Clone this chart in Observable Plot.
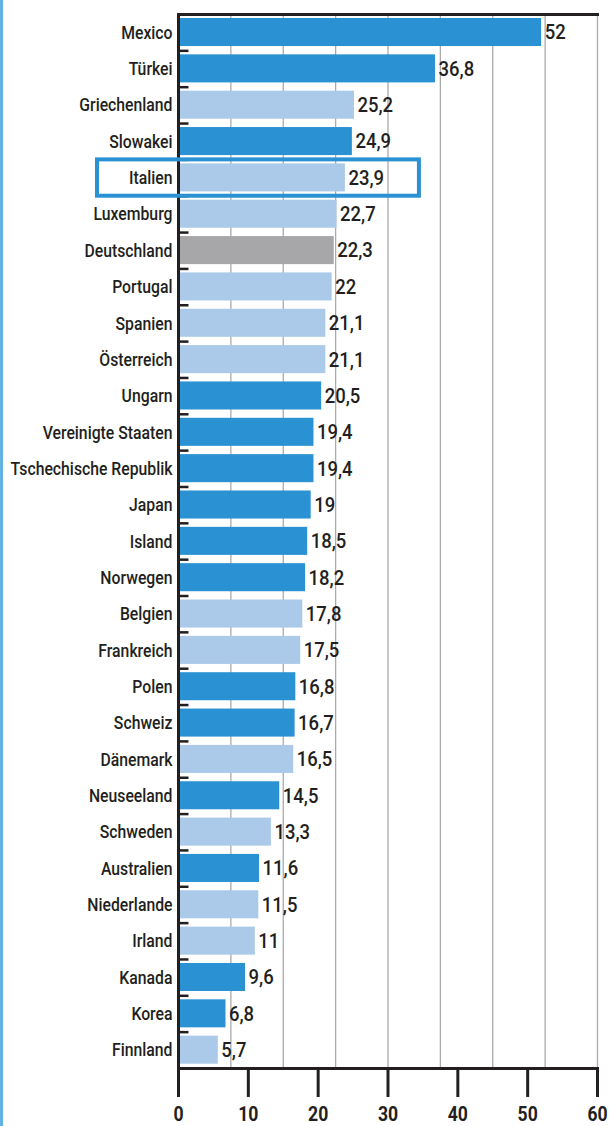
<!DOCTYPE html>
<html><head><meta charset="utf-8">
<script src="https://cdn.jsdelivr.net/npm/d3@7"></script>
<script src="https://cdn.jsdelivr.net/npm/@observablehq/plot@0.6"></script>
<style>
body{margin:0;background:#fff;}
#wrap{position:relative;width:610px;height:1126px;overflow:hidden}
#edge{position:absolute;left:0;top:0;width:3px;height:1126px;background:#62b1e3}
#wrap svg{position:absolute;left:0;top:0}
</style></head><body><div id="wrap"><div id="edge"></div></div>
<script>
const countries=["Mexico","Türkei","Griechenland","Slowakei","Italien","Luxemburg","Deutschland","Portugal","Spanien","Österreich","Ungarn","Vereinigte Staaten","Tschechische Republik","Japan","Island","Norwegen","Belgien","Frankreich","Polen","Schweiz","Dänemark","Neuseeland","Schweden","Australien","Niederlande","Irland","Kanada","Korea","Finnland"];
const values=[52,36.8,25.2,24.9,23.9,22.7,22.3,22,21.1,21.1,20.5,19.4,19.4,19,18.5,18.2,17.8,17.5,16.8,16.7,16.5,14.5,13.3,11.6,11.5,11,9.6,6.8,5.7];
const groups=["dark","dark","light","dark","light","light","de","light","light","light","dark","dark","dark","dark","dark","dark","light","light","dark","dark","light","dark","light","dark","light","light","dark","dark","light"];
const highlight=["Italien"];
const xTicks=[0,10,20,30,40,50,60];
const gridTicks=[7.5,15,22.5,30,37.5,45,52.5,60];
const colors={dark:"#2a92d3",light:"#abcae9",de:"#a7a7aa"};
const data=countries.map((c,i)=>({country:c,value:values[i],group:groups[i]}));
const fmt=v=>String(v).replace(".",",");
const font="Roboto,'Liberation Sans',sans-serif";
const ink="#231f20";
const H=1126, mt=14, mb=58;
const bw=(H-mt-mb)/countries.length;
const chart=Plot.plot({
  width:610,height:H,marginLeft:178,marginRight:13,marginTop:mt,marginBottom:mb,
  style:{fontFamily:font,background:"transparent",overflow:"visible",color:ink},
  x:{domain:[0,60],axis:null},
  y:{domain:countries,padding:0,round:false,axis:null},
  marks:[
    Plot.ruleX(gridTicks,{stroke:"#ababab",strokeWidth:1.3}),
    Plot.barX(data,{x:"value",y:"country",fill:d=>colors[d.group],insetTop:4,insetBottom:4.3}),
    Plot.text(data,{x:"value",y:"country",text:d=>fmt(d.value),textAnchor:"start",dx:3,fontSize:21,fontWeight:500,fill:ink}),
    Plot.axisY({tickSize:0,tickPadding:6,fontSize:19,fontWeight:500,fill:ink,label:null}),
    Plot.ruleY(data,{y:"country",x1:0,x2:1.5,dy:bw/2,stroke:ink,strokeWidth:2.5}),
    Plot.ruleX([0],{stroke:ink,strokeWidth:3}),
    Plot.frame({anchor:"top",stroke:ink,strokeWidth:3}),
    Plot.frame({anchor:"bottom",stroke:ink,strokeWidth:3}),
    Plot.axisX({ticks:xTicks,tickSize:29,tickPadding:9,strokeWidth:3,stroke:ink,fill:ink,fontSize:20,fontWeight:"bold",tickFormat:d=>String(d),label:null}),
    Plot.barX(data.filter(d=>highlight.includes(d.country)),{x1:-11.6,x2:34.5,y:"country",fill:"none",stroke:"#2a92d3",strokeWidth:4})
  ]
});
document.getElementById("wrap").appendChild(chart);
// condense glyphs horizontally (no condensed font installed)
function condense(sel,k){
  d3.select(chart).selectAll(sel).each(function(){
    const t=this; const len=t.getComputedTextLength();
    if(len>0){t.setAttribute("textLength",len*k);t.setAttribute("lengthAdjust","spacingAndGlyphs");}
  });
}
condense('g[aria-label="y-axis tick label"] text',0.83);
condense('g[aria-label="x-axis tick label"] text',0.88);
condense('g[aria-label="text"] text',0.88);
</script></body></html>
